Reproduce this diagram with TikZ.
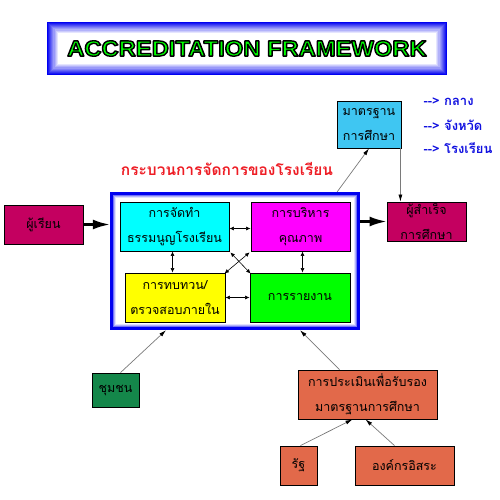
\documentclass[tikz,border=0pt]{standalone}
\usepackage{fontspec}
\usetikzlibrary{arrows.meta,positioning}
\newfontfamily\thaifont[Script=Thai]{Loma}
\newfontfamily\headfont{Liberation Sans}
\newcommand{\outlined}[1]{\special{pdf:code q 2 Tr 1.4 w 1 j 0 0 0 RG}#1\special{pdf:code Q}}
\definecolor{FrameBlue}{HTML}{0000F0}
\definecolor{StdCyan}{HTML}{3FC6F2}
\definecolor{PlanCyan}{HTML}{00FFFF}
\definecolor{MgmtPink}{HTML}{FF00FF}
\definecolor{ReviewYellow}{HTML}{FFFF00}
\definecolor{ReportGreen}{HTML}{00FF00}
\definecolor{PeopleRed}{HTML}{C40060}
\definecolor{TownGreen}{HTML}{14874A}
\definecolor{AssessOrange}{HTML}{E2694A}
\definecolor{NoteBlue}{HTML}{1010E0}
\definecolor{ProcRed}{HTML}{EE1C24}
\definecolor{LinkGray}{HTML}{7A7A7A}
\tikzset{
  pbox/.style={
    draw=black,
    line width=0.8pt,
    inner sep=1pt,
    align=center,
    font=\thaifont\fontsize{12.5}{25}\selectfont,
    text=black,
  },
  duo/.style={
    {Latex[length=4.5pt,width=4pt]}-{Latex[length=4.5pt,width=4pt]},
    line width=0.6pt,
  },
  link/.style={
    -{Latex[length=7pt,width=4pt,color=black]},
    draw=LinkGray,
    line width=0.7pt,
  },
  push/.style={
    -{Latex[length=17pt,width=10pt]},
    line width=2.4pt,
  },
  note/.style={
    anchor=west,
    text=NoteBlue,
    font=\thaifont\bfseries\fontsize{13}{15}\selectfont,
  }
}

\begin{document}
\begin{tikzpicture}[x=1pt,y=-1pt]
  \useasboundingbox[fill=white] (0,0) rectangle (500,500);

  % title banner
  \node[minimum width=400pt, minimum height=53pt, inner sep=0pt] (banner) at (247,48.5) {};
  \foreach \i in {0,...,9} {
    \pgfmathsetmacro{\tint}{100-\i*10}
    \draw[draw=FrameBlue!\tint!white, line width=1.2pt]
      ([xshift=\i*1.1pt+0.6pt, yshift=-\i*1.1pt-0.6pt]banner.north west)
      rectangle ([xshift=-\i*1.1pt-0.6pt, yshift=\i*1.1pt+0.6pt]banner.south east);
  }
  \node[font=\headfont\bfseries\fontsize{22}{26}\selectfont, text=ReportGreen] (headline) at (banner.center)
    {\scalebox{1.08}[1.0]{\outlined{ACCREDITATION FRAMEWORK}}};

  % standards
  \node[pbox, fill=StdCyan, minimum width=64pt, minimum height=47pt] (std) at (369,124.5)
    {มาตรฐาน\\การศึกษา};
  \node[note] (central) at (420,102) {{-}{-}> กลาง};
  \node[note] (province) at (420,125) {{-}{-}> จังหวัด};
  \node[note] (school) at (420,148) {{-}{-}> โรงเรียน};

  % school process
  \node[text=ProcRed, font=\thaifont\bfseries\fontsize{15.5}{17}\selectfont] (proctitle) at (227,169)
    {กระบวนการจัดการของโรงเรียน};
  \node[minimum width=250pt, minimum height=138pt, inner sep=0pt] (frame) at (235,261) {};
  \foreach \i/\tint in {0/100,1/100,2/100,3/55,4/30,5/12} {
    \draw[draw=FrameBlue!\tint!white, line width=1.1pt]
      ([xshift=\i*1pt+0.5pt, yshift=-\i*1pt-0.5pt]frame.north west)
      rectangle ([xshift=-\i*1pt-0.5pt, yshift=\i*1pt+0.5pt]frame.south east);
  }
  \node[pbox, fill=PlanCyan, minimum width=109pt, minimum height=49pt] (charter) at (174.5,226.5)
    {การจัดทำ\\ธรรมนูญโรงเรียน};
  \node[pbox, fill=MgmtPink, minimum width=99pt, minimum height=49pt] (mgmt) at (300.5,226.5)
    {การบริหาร\\คุณภาพ};
  \node[pbox, fill=ReviewYellow, minimum width=100pt, minimum height=49pt] (review) at (175,297.5)
    {การทบทวน/\\ตรวจสอบภายใน};
  \node[pbox, fill=ReportGreen, minimum width=100pt, minimum height=49pt] (report) at (300,297.5)
    {การรายงาน};

  \draw[duo] ([yshift=-2pt]charter.east) -- ([yshift=-2pt]mgmt.west);
  \draw[duo] ([xshift=-2pt]charter.south) -- ([xshift=-2pt]charter.south |- review.north);
  \draw[duo] ([xshift=2pt]mgmt.south) -- ([xshift=2pt]mgmt.south |- report.north);
  \draw[duo] (review.east) -- (report.west);
  \draw[duo] ([shift={(1pt,-1pt)}]charter.south east) -- ([shift={(1pt,-1pt)}]report.north west);
  \draw[duo] ([shift={(-1pt,-1pt)}]mgmt.south west) -- ([shift={(-1pt,-1pt)}]review.north east);

  % people and outside bodies
  \node[pbox, fill=PeopleRed, minimum width=79pt, minimum height=39pt] (learner) at (43.5,224.5)
    {ผู้เรียน};
  \node[pbox, fill=PeopleRed, minimum width=79pt, minimum height=39pt] (graduate) at (426.5,221.5)
    {ผู้สำเร็จ\\การศึกษา};
  \node[pbox, fill=TownGreen, minimum width=47pt, minimum height=34pt] (community) at (115.5,390)
    {ชุมชน};
  \node[pbox, fill=AssessOrange, minimum width=139pt, minimum height=49pt] (assess) at (367.5,394.5)
    {การประเมินเพื่อรับรอง\\มาตรฐานการศึกษา};
  \node[pbox, fill=AssessOrange, minimum width=37pt, minimum height=39pt] (state) at (298.5,465.5)
    {รัฐ};
  \node[pbox, fill=AssessOrange, minimum width=99pt, minimum height=39pt] (indep) at (404.5,465.5)
    {องค์กรอิสระ};

  \draw[push] (learner.east) -- (frame.west |- learner.east);
  \draw[push] (frame.east |- graduate.west) -- (graduate.west);
  \draw[link] ([xshift=-23pt]frame.north east) -- (std.south);
  \draw[link] ([xshift=-1pt]std.south east) -- ([xshift=-1pt]std.south east |- graduate.north);
  \draw[link] ([xshift=5pt]community.north) -- ([xshift=-69pt]frame.south);
  \draw[link] ([xshift=-28pt]assess.north) -- ([xshift=65pt]frame.south);
  \draw[link] ([xshift=2pt]state.north) -- ([xshift=-15pt]assess.south);
  \draw[link] ([xshift=-10pt]indep.north) -- ([xshift=-2pt]assess.south);
\end{tikzpicture}
\end{document}
